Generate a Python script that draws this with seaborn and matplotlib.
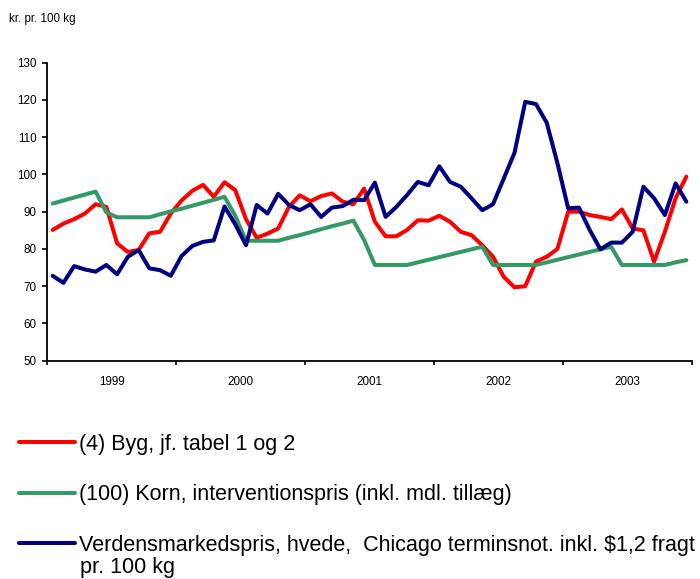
import numpy as np
import pandas as pd
import matplotlib
matplotlib.use("Agg")
import matplotlib.pyplot as plt
import seaborn as sns
from matplotlib.ticker import FixedLocator, NullFormatter, FixedFormatter

# ---- data (kr. pr. 100 kg, monthly 1999-2003) ----
years = ["1999", "2000", "2001", "2002", "2003"]
months_per_year = 12

byg = [85.1, 86.8, 88.0, 89.5, 92.0, 91.3, 81.5, 79.2, 79.7, 84.2, 84.6, 89.5,
       93.0, 95.6, 97.2, 94.0, 97.9, 95.8, 88.0, 83.0, 84.1, 85.5, 91.3, 94.4,
       92.8, 94.2, 94.9, 92.7, 92.0, 96.2, 87.3, 83.4, 83.4, 85.1, 87.7, 87.6,
       88.9, 87.3, 84.6, 83.7, 81.0, 77.9, 72.5, 69.7, 70.0, 76.6, 77.9, 80.0,
       90.0, 90.0, 89.1, 88.6, 88.0, 90.6, 85.5, 85.0, 76.6, 84.6, 93.6, 99.4]

korn = [92.2, 93.0, 93.8, 94.6, 95.4, 89.8, 88.5, 88.5, 88.5, 88.5, 89.3, 90.1,
        90.8, 91.6, 92.4, 93.2, 94.0, 88.9, 82.2, 82.2, 82.2, 82.2, 83.0, 83.7,
        84.5, 85.3, 86.1, 86.8, 87.6, 82.4, 75.7, 75.7, 75.7, 75.7, 76.4, 77.1,
        77.8, 78.5, 79.2, 79.9, 80.6, 75.7, 75.7, 75.7, 75.7, 75.7, 76.4, 77.1,
        77.8, 78.5, 79.2, 79.9, 80.6, 75.7, 75.7, 75.7, 75.7, 75.7, 76.4, 77.0]

verden = [72.8, 70.9, 75.4, 74.5, 73.9, 75.7, 73.2, 77.9, 79.7, 74.8, 74.3, 72.8,
          78.1, 80.8, 81.9, 82.3, 91.4, 86.6, 81.0, 91.8, 89.5, 94.8, 91.8, 90.4,
          92.0, 88.6, 91.1, 91.5, 93.2, 93.1, 97.8, 88.6, 91.3, 94.5, 98.0, 97.1,
          102.2, 98.0, 96.7, 93.6, 90.4, 92.0, 98.9, 105.8, 119.5, 118.9, 113.9, 103.0,
          90.9, 91.1, 85.1, 79.9, 81.7, 81.7, 84.6, 96.7, 93.6, 89.1, 97.6, 92.7]

series_labels = ["(4) Byg, jf. tabel 1 og 2",
                 "(100) Korn, interventionspris (inkl. mdl. tillæg)",
                 "Verdensmarkedspris, hvede,  Chicago terminsnot. inkl. \\$1,2 fragt"]
label_extra_line = "pr. 100 kg"
y_unit = "kr. pr. 100 kg"
colors = ["#FF0000", "#339966", "#000080"]

# ---- style ----
sns.set_theme(style="white")
plt.rcParams["font.family"] = ["Liberation Sans", "DejaVu Sans"]
for k in ["text.color", "axes.labelcolor", "xtick.color", "ytick.color"]:
    plt.rcParams[k] = "black"

n = len(byg)
month_idx = np.arange(n)
df = pd.DataFrame({
    "month": np.tile(month_idx + 0.5, 3),
    "value": byg + korn + verden,
    "series": np.repeat(series_labels, n),
})

fig = plt.figure(figsize=(7.0, 5.79), dpi=100)
W, H = 700, 579
ax = fig.add_axes([47.3 / W, 1 - 360.7 / H, 644.4 / W, 298 / H])

sns.lineplot(data=df, x="month", y="value", hue="series", hue_order=series_labels,
             palette=colors, linewidth=2.9, legend=False, estimator=None,
             sort=False, ax=ax)
for ln in ax.lines:
    ln.set_solid_joinstyle("round")

nyears = len(years)
ax.set_xlim(0, nyears * months_per_year)
ax.set_ylim(50, 130)
ax.set_yticks(np.arange(50, 131, 10))
ax.xaxis.set_major_locator(FixedLocator(np.arange(0, nyears * months_per_year + 1, months_per_year)))
ax.xaxis.set_major_formatter(NullFormatter())
ax.xaxis.set_minor_locator(FixedLocator(np.arange(nyears) * months_per_year + months_per_year / 2))
ax.xaxis.set_minor_formatter(FixedFormatter(years))
ax.set_xlabel("")
ax.set_ylabel("")

sns.despine(ax=ax)
for s in ["left", "bottom"]:
    ax.spines[s].set_color("black")
    ax.spines[s].set_linewidth(1.3)

ax.tick_params(axis="y", which="major", left=True, direction="out", length=3.6,
               width=1.2, color="black", pad=4.3, labelsize=8.4)
ax.tick_params(axis="x", which="major", bottom=True, direction="out", length=3.1,
               width=1.2, color="black")
ax.tick_params(axis="x", which="minor", bottom=True, length=0, pad=11, labelsize=8.4)

fig.text(9 / W, 1 - 19 / H, y_unit, fontsize=8.4, va="center", ha="left")

handles = ax.lines[:3]
fig.legend(handles, series_labels, loc="upper left",
           bbox_to_anchor=(19 / W, 1 - 434 / H), frameon=False, fontsize=15.5,
           handlelength=2.6, handletextpad=0.2, labelspacing=1.36,
           borderpad=0, borderaxespad=0)
fig.text(80 / W, 1 - 568 / H, label_extra_line, fontsize=15.5, va="center", ha="left")

fig.savefig("out.png", dpi=100)
